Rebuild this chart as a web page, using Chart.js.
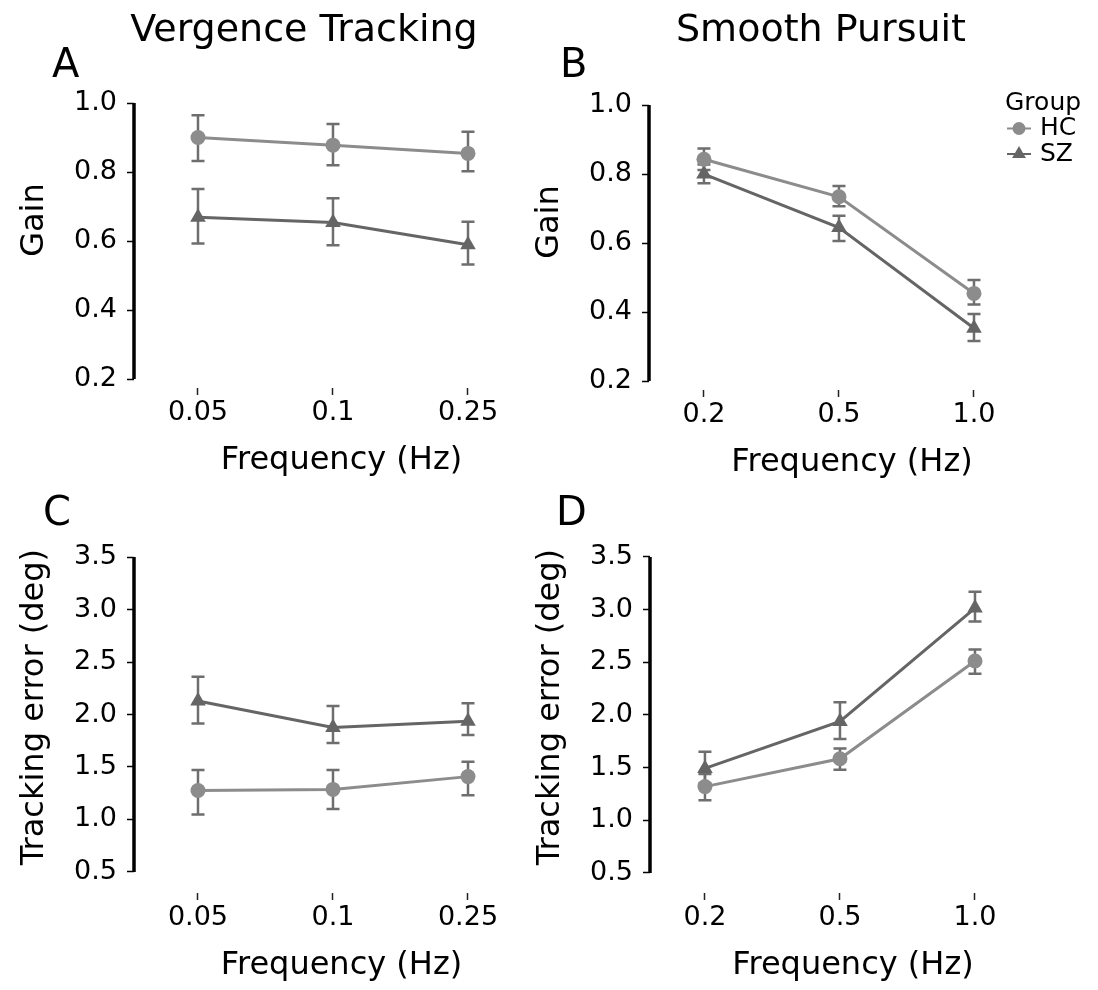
<!DOCTYPE html>
<html>
<head>
<meta charset="utf-8">
<script src="https://cdn.jsdelivr.net/npm/chart.js@4.4.0/dist/chart.umd.min.js"></script>
<style>
  body { margin: 0; background: #fff; font-family: 'DejaVu Sans', sans-serif; }
  #wrap { position: relative; width: 1098px; height: 990px; overflow: hidden; }
  canvas { position: absolute; }
  .lbl { position: absolute; font-size: 38px; line-height: 38px; color: #000; white-space: nowrap; }
  .ttl { width: 400px; text-align: center; }
  .let { font-size: 40px; line-height: 40px; }
</style>
</head>
<body>
<div id="wrap">
  <canvas id="chartA" width="560" height="480" style="left:0px;top:0px"></canvas>
  <canvas id="chartB" width="583" height="480" style="left:515px;top:2px"></canvas>
  <canvas id="chartC" width="560" height="490" style="left:0px;top:495px"></canvas>
  <canvas id="chartD" width="582" height="490" style="left:516px;top:495px"></canvas>

  <div class="lbl ttl" style="left:104px;top:9px">Vergence Tracking</div>
  <div class="lbl ttl" style="left:621px;top:9px">Smooth Pursuit</div>
  <div class="lbl let" style="left:52px;top:43px">A</div>
  <div class="lbl let" style="left:560px;top:43px">B</div>
  <div class="lbl let" style="left:43px;top:491px">C</div>
  <div class="lbl let" style="left:556px;top:491px">D</div>
</div>
<script>
// categories
const vergenceFreq = ['0.05', '0.1', '0.25'];
const pursuitFreq = ['0.2', '0.5', '1.0'];
const groups = ['HC', 'SZ'];

// tick labels
const gainTicks = [0.2, 0.4, 0.6, 0.8, 1.0];
const errorTicks = [0.5, 1.0, 1.5, 2.0, 2.5, 3.0, 3.5];

// A - vergence gain
const vergGainHC = [0.900, 0.878, 0.854];
const vergGainHCLo = [0.832, 0.820, 0.802];
const vergGainHCHi = [0.965, 0.939, 0.917];
const vergGainSZ = [0.669, 0.654, 0.589];
const vergGainSZLo = [0.593, 0.588, 0.532];
const vergGainSZHi = [0.751, 0.724, 0.656];

// B - pursuit gain
const pursGainHC = [0.843, 0.734, 0.454];
const pursGainHCLo = [0.812, 0.707, 0.422];
const pursGainHCHi = [0.874, 0.765, 0.493];
const pursGainSZ = [0.800, 0.645, 0.353];
const pursGainSZLo = [0.773, 0.606, 0.316];
const pursGainSZHi = [0.828, 0.679, 0.394];

// C - vergence tracking error
const vergErrHC = [1.276, 1.286, 1.408];
const vergErrHCLo = [1.047, 1.100, 1.230];
const vergErrHCHi = [1.471, 1.471, 1.550];
const vergErrSZ = [2.128, 1.876, 1.936];
const vergErrSZLo = [1.914, 1.729, 1.804];
const vergErrSZHi = [2.360, 2.080, 2.106];

// D - pursuit tracking error
const pursErrHC = [1.319, 1.583, 2.512];
const pursErrHCLo = [1.190, 1.480, 2.390];
const pursErrHCHi = [1.440, 1.680, 2.620];
const pursErrSZ = [1.492, 1.938, 3.014];
const pursErrSZLo = [1.350, 1.771, 2.886];
const pursErrSZHi = [1.649, 2.120, 3.168];

const HC_COLOR = '#8c8c8c';
const SZ_COLOR = '#656565';
const ERR_COLOR = '#6e6e6e';

Chart.defaults.font.family = "'DejaVu Sans', sans-serif";
Chart.defaults.color = '#000';

// error bars drawn under the lines and markers
const errorBars = {
  id: 'errorBars',
  beforeDatasetsDraw(chart) {
    const ctx = chart.ctx;
    const yScale = chart.scales.y;
    chart.data.datasets.forEach((ds, i) => {
      const meta = chart.getDatasetMeta(i);
      ctx.save();
      ctx.strokeStyle = ERR_COLOR;
      ctx.lineWidth = 2.5;
      meta.data.forEach((pt, j) => {
        const top = yScale.getPixelForValue(ds.errHi[j]);
        const bot = yScale.getPixelForValue(ds.errLo[j]);
        ctx.beginPath();
        ctx.moveTo(pt.x, top);
        ctx.lineTo(pt.x, bot);
        ctx.moveTo(pt.x - 6.5, top);
        ctx.lineTo(pt.x + 6.5, top);
        ctx.moveTo(pt.x - 6.5, bot);
        ctx.lineTo(pt.x + 6.5, bot);
        ctx.stroke();
      });
      ctx.restore();
    });
  }
};

// trimmed left spine, from first to last tick
const spine = {
  id: 'spine',
  afterDraw(chart) {
    const yScale = chart.scales.y;
    const ticks = yScale.ticks;
    const ctx = chart.ctx;
    const x = chart.chartArea.left;
    ctx.save();
    ctx.strokeStyle = '#000';
    ctx.lineWidth = 3.5;
    ctx.beginPath();
    ctx.moveTo(x, yScale.getPixelForValue(ticks[0].value));
    ctx.lineTo(x, yScale.getPixelForValue(ticks[ticks.length - 1].value));
    ctx.stroke();
    ctx.restore();
  }
};

// seaborn style legend with a title
const groupLegend = {
  id: 'groupLegend',
  afterDraw(chart, args, opts) {
    const ctx = chart.ctx;
    ctx.save();
    ctx.fillStyle = '#000';
    ctx.font = "25px 'DejaVu Sans'";
    ctx.textBaseline = 'middle';
    ctx.fillText(opts.title, opts.x, opts.y);
    chart.data.datasets.forEach((ds, i) => {
      const rowY = opts.y + opts.rowGap * (i + 1.5) - opts.rowGap / 2;
      ctx.strokeStyle = ds.borderColor;
      ctx.lineWidth = 2;
      ctx.beginPath();
      ctx.moveTo(opts.x + 2, rowY);
      ctx.lineTo(opts.x + 26, rowY);
      ctx.stroke();
      ctx.fillStyle = ds.backgroundColor;
      Chart.helpers.drawPoint(ctx, {
        pointStyle: ds.pointStyle, radius: ds.pointRadius - 1, rotation: 0, borderWidth: 0
      }, opts.x + 14, rowY);
      ctx.fillStyle = '#000';
      ctx.fillText(ds.label, opts.x + 35, rowY);
    });
    ctx.restore();
  }
};

function series(label, values, lo, hi, color, style, radius) {
  return {
    label: label,
    data: values.map((v, i) => ({ x: i, y: v })),
    errLo: lo,
    errHi: hi,
    borderColor: color,
    backgroundColor: color,
    borderWidth: 3,
    pointStyle: style,
    pointRadius: radius,
    pointBorderWidth: 0,
    pointBackgroundColor: color,
    tension: 0
  };
}

function makePanel(id, cfg) {
  const ctx = document.getElementById(id).getContext('2d');
  return new Chart(ctx, {
    type: 'line',
    data: {
      datasets: [
        series(groups[0], cfg.hc, cfg.hcLo, cfg.hcHi, HC_COLOR, 'circle', 7.5),
        series(groups[1], cfg.sz, cfg.szLo, cfg.szHi, SZ_COLOR, 'triangle', 9)
      ]
    },
    options: {
      responsive: false,
      animation: false,
      devicePixelRatio: 1,
      layout: { padding: { top: cfg.padTop, left: 0, right: cfg.padRight, bottom: 0 } },
      plugins: {
        legend: { display: false },
        tooltip: { enabled: false },
        groupLegend: cfg.legend || false
      },
      scales: {
        x: {
          type: 'linear',
          min: cfg.xMin,
          max: 2.6,
          afterBuildTicks: (s) => { s.ticks = cfg.labels.map((l, i) => ({ value: i })); },
          afterFit: (s) => { s.height = 92; },
          ticks: {
            callback: (v) => cfg.labels[v],
            font: { size: 27 },
            padding: 2,
            maxRotation: 0,
            autoSkip: false
          },
          grid: { drawOnChartArea: false, drawTicks: true, tickLength: 7, tickWidth: 1.5, tickColor: '#222' },
          border: { display: false },
          title: { display: true, text: 'Frequency (Hz)', font: { size: 32 }, padding: 0 }
        },
        y: {
          min: cfg.yMin,
          max: cfg.yMax,
          afterBuildTicks: (s) => { s.ticks = cfg.yTicks.map((v) => ({ value: v })); },
          afterFit: (s) => { s.width = 134; },
          ticks: { callback: (v) => v.toFixed(1), font: { size: 27 }, padding: 10 },
          grid: { drawOnChartArea: false, drawTicks: true, tickLength: 7, tickWidth: 1.5, tickColor: '#000' },
          border: { display: false },
          title: { display: true, text: cfg.yTitle, font: { size: 32 }, padding: { top: 15, bottom: 0 } }
        }
      }
    },
    plugins: [errorBars, spine, groupLegend]
  });
}

makePanel('chartA', {
  labels: vergenceFreq, yTicks: gainTicks, yTitle: 'Gain',
  hc: vergGainHC, hcLo: vergGainHCLo, hcHi: vergGainHCHi,
  sz: vergGainSZ, szLo: vergGainSZLo, szHi: vergGainSZHi,
  yMin: 0.174, yMax: 1.148, xMin: -0.474, padTop: 52, padRight: 11
});

makePanel('chartB', {
  labels: pursuitFreq, yTicks: gainTicks, yTitle: 'Gain',
  hc: pursGainHC, hcLo: pursGainHCLo, hcHi: pursGainHCHi,
  sz: pursGainSZ, szLo: pursGainSZLo, szHi: pursGainSZHi,
  yMin: 0.174, yMax: 1.148, xMin: -0.407, padTop: 52, padRight: 43,
  legend: { title: 'Group', x: 490, y: 101, rowGap: 25.5 }
});

makePanel('chartC', {
  labels: vergenceFreq, yTicks: errorTicks, yTitle: 'Tracking error (deg)',
  hc: vergErrHC, hcLo: vergErrHCLo, hcHi: vergErrHCHi,
  sz: vergErrSZ, szLo: vergErrSZLo, szHi: vergErrSZHi,
  yMin: 0.299, yMax: 3.842, xMin: -0.474, padTop: 22, padRight: 11
});

makePanel('chartD', {
  labels: pursuitFreq, yTicks: errorTicks, yTitle: 'Tracking error (deg)',
  hc: pursErrHC, hcLo: pursErrHCLo, hcHi: pursErrHCHi,
  sz: pursErrSZ, szLo: pursErrSZLo, szHi: pursErrSZHi,
  yMin: 0.309, yMax: 3.839, xMin: -0.407, padTop: 23, padRight: 42
});
</script>
</body>
</html>
